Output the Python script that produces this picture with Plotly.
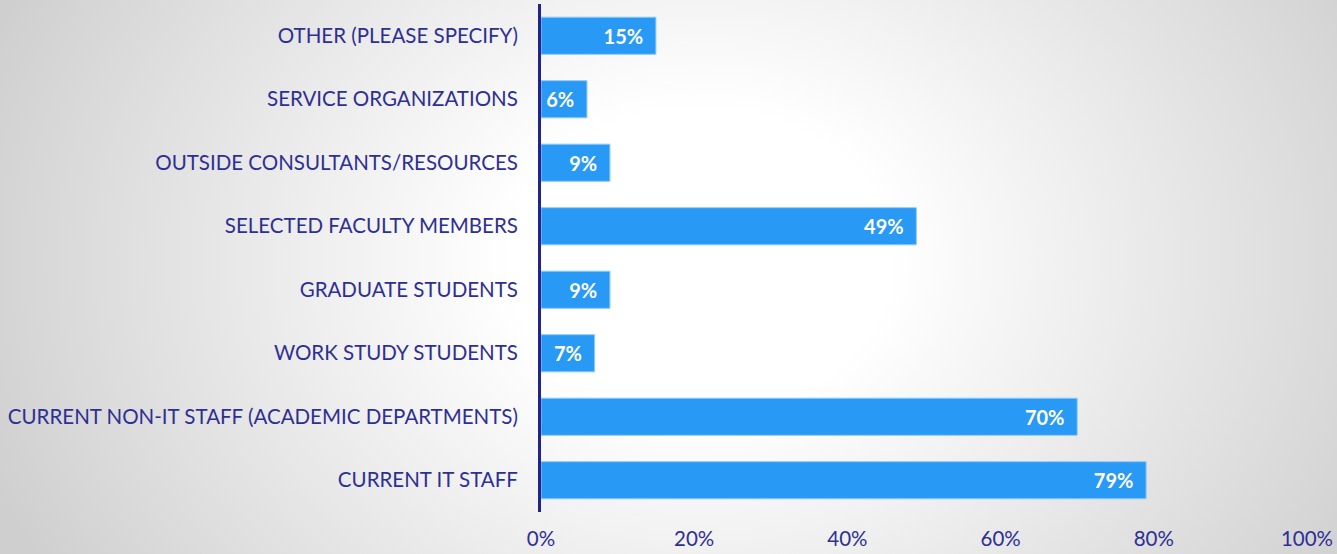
import base64
import plotly.graph_objects as go

categories = [
    "OTHER (PLEASE SPECIFY)",
    "SERVICE ORGANIZATIONS",
    "OUTSIDE CONSULTANTS/RESOURCES",
    "SELECTED FACULTY MEMBERS",
    "GRADUATE STUDENTS",
    "WORK STUDY STUDENTS",
    "CURRENT NON-IT STAFF (ACADEMIC DEPARTMENTS)",
    "CURRENT IT STAFF",
]
values = [0.15, 0.06, 0.09, 0.49, 0.09, 0.07, 0.70, 0.79]
x_ticks = [0, 0.2, 0.4, 0.6, 0.8, 1.0]

W, H = 1337, 554
L, R, T, B = 541, 30, 4, 42

svg = f'''<svg xmlns="http://www.w3.org/2000/svg" width="{W}" height="{H}">
<defs><radialGradient id="g" gradientUnits="userSpaceOnUse" cx="700" cy="260" r="760"
 gradientTransform="translate(700 260) scale(1 0.8) translate(-700 -260)">
<stop offset="0" stop-color="#ffffff"/><stop offset="0.25" stop-color="#ffffff"/>
<stop offset="0.9" stop-color="#d6d6d6"/><stop offset="1" stop-color="#cfcfcf"/></radialGradient></defs>
<rect width="{W}" height="{H}" fill="url(#g)"/></svg>'''
uri = "data:image/svg+xml;base64," + base64.b64encode(svg.encode()).decode()

pw, ph = W - L - R, H - T - B

navy = "#2E2F94"
fig = go.Figure(go.Bar(
    y=categories, x=values, orientation="h",
    marker=dict(color="#2899F5", line=dict(color="#8FCBFA", width=1)),
    texttemplate="%{x:.0%}\u00a0\u00a0", textposition="inside", insidetextanchor="end",
    textfont=dict(family="Lato", size=20, color="white", weight="bold"),
    width=0.585,
))
fig.update_layout(
    width=W, height=H,
    margin=dict(l=L, r=R, t=T, b=B),
    paper_bgcolor="white", plot_bgcolor="rgba(0,0,0,0)",
    font=dict(family="Lato", size=20.5, color=navy),
    showlegend=False,
    images=[dict(source=uri, xref="paper", yref="paper",
                 x=-L / pw, y=1 + T / ph, sizex=W / pw, sizey=H / ph,
                 xanchor="left", yanchor="top", sizing="stretch", layer="below")],
    xaxis=dict(range=[0, 1], tickvals=x_ticks, tickformat=".0%", showgrid=False,
               zeroline=False, showline=False, ticklabelstandoff=12, fixedrange=True),
    yaxis=dict(autorange="reversed", showgrid=False, showline=True,
               linecolor="#23238C", linewidth=3, ticks="", ticklabelstandoff=16),
)
fig.write_html("out.html", config={"displayModeBar": False},
               post_script="document.body.style.margin='0';document.body.style.overflow='hidden';")
